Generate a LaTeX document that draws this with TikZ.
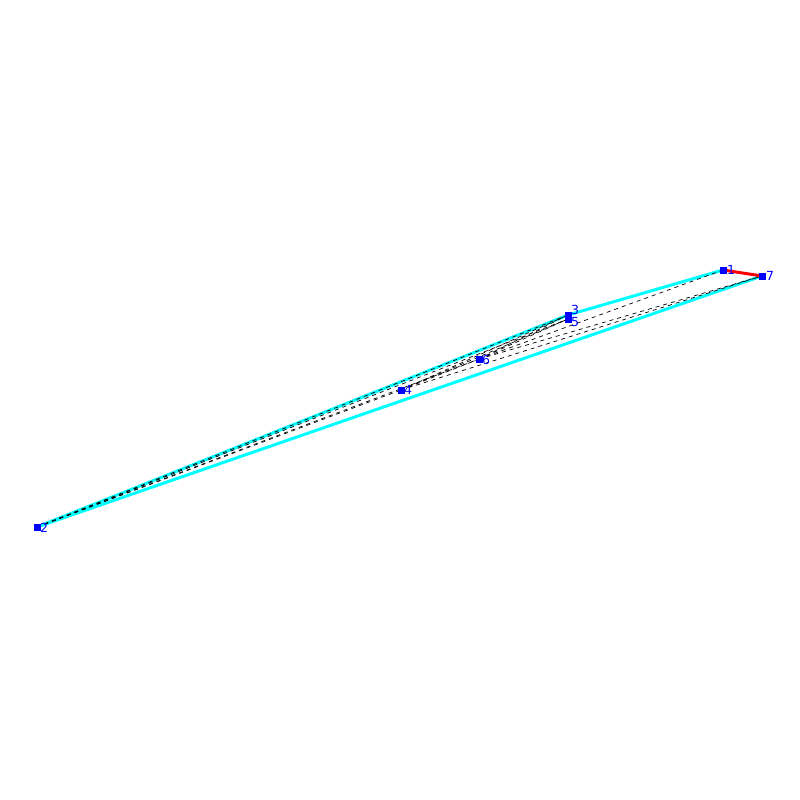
\documentclass[tikz,border=0pt]{standalone}
\usepackage{fontspec}
\setmainfont{DejaVu Sans}
\definecolor{hullcyan}{RGB}{0,255,255}
\definecolor{vblue}{RGB}{0,0,255}
\definecolor{ered}{RGB}{255,0,0}
\begin{document}
\begin{tikzpicture}[x=1pt,y=-1pt,
  vtx/.style={fill=vblue,inner sep=0pt,minimum size=7pt,draw=none,rectangle},
  lbl/.style={text=vblue,font=\fontsize{12.5}{12.5}\selectfont,inner sep=0pt,anchor=west},
  hull/.style={hullcyan,line width=3pt},
  diag/.style={black,line width=0.7pt,dash pattern=on 4pt off 4pt},
  redge/.style={ered,line width=3pt}]
\useasboundingbox (0,0) rectangle (800,800);
\coordinate (p1) at (723,270);
\coordinate (p7) at (762,276);
\coordinate (p3) at (568,315);
\coordinate (p5) at (568,319);
\coordinate (p6) at (479,359);
\coordinate (p4) at (401,390);
\coordinate (p2) at (37,527);
% hull edges
\draw[hull] (p2) -- (p3) -- (p1);
\draw[hull] (p7) -- (p2);
% interior dashed edges
\draw[diag] (p2) -- (p4);
\draw[diag] (p2) -- (p6);
\draw[diag] (p2) -- (p5);
\draw[diag] (p2) -- (p3);
\draw[diag] (p4) -- (p3);
\draw[diag] (p4) -- (p5);
\draw[diag] (p4) -- (p6);
\draw[diag] (p4) -- (p7);
\draw[diag] (p6) -- (p3);
\draw[diag] (p6) -- (p5);
\draw[diag] (p6) -- (p1);
\draw[diag] (p6) -- (p7);
% red edge
\draw[redge] (p1) -- (p7);
% vertices
\node[vtx] (v1) at (p1) {};
\node[vtx] (v7) at (p7) {};
\node[vtx] (v3) at (p3) {};
\node[vtx] (v5) at (p5) {};
\node[vtx] (v6) at (p6) {};
\node[vtx] (v4) at (p4) {};
\node[vtx] (v2) at (p2) {};
\node[lbl] (t1) at (727,270) {1};
\node[lbl] (t7) at (766,276) {7};
\node[lbl] (t3) at (571,310) {3};
\node[lbl] (t5) at (571,322) {5};
\node[lbl] (t6) at (482,360) {6};
\node[lbl] (t4) at (404,390) {4};
\node[lbl] (t2) at (40,528) {2};
\end{tikzpicture}
\end{document}
